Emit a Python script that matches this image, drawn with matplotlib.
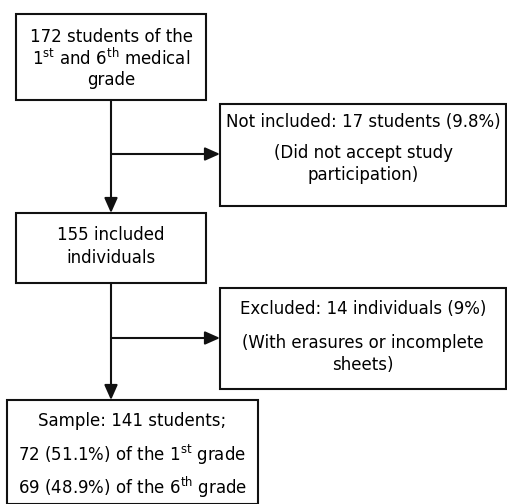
import matplotlib
matplotlib.use("Agg")
import matplotlib.pyplot as plt
from matplotlib.patches import Rectangle

plt.rcParams['mathtext.fontset'] = 'dejavusans'

# flowchart content
box_main = [
    ["172 students of the", r"1$^{\mathrm{st}}$ and 6$^{\mathrm{th}}$ medical", "grade"],
    ["155 included", "individuals"],
    ["Sample: 141 students;", r"72 (51.1%) of the 1$^{\mathrm{st}}$ grade",
     r"69 (48.9%) of the 6$^{\mathrm{th}}$ grade"],
]
box_side = [
    ["Not included: 17 students (9.8%)", "(Did not accept study", "participation)"],
    ["Excluded: 14 individuals (9%)", "(With erasures or incomplete", "sheets)"],
]

# layout in pixels (x0, y0, x1, y1) and text line centres
main_rects = [(16, 14, 206, 100), (16, 213, 206, 283), (7, 400, 258, 504)]
main_lines_y = [[37, 58, 80], [235, 258], [421, 455, 487]]
side_rects = [(220, 104, 506, 206), (220, 288, 506, 389)]
side_lines_y = [[122, 153, 175], [309, 343, 365]]
branch_y = [154, 338]
trunk_x = 111

fs = 12
fig = plt.figure(figsize=(5.07, 5.04), dpi=100)
ax = fig.add_axes([0, 0, 1, 1])
ax.set_xlim(0, 507)
ax.set_ylim(504, 0)
ax.axis("off")


def draw_box(rect, lines, ys):
    x0, y0, x1, y1 = rect
    ax.add_patch(Rectangle((x0, y0), x1 - x0, y1 - y0, fill=False,
                           edgecolor="#111111", linewidth=1.5))
    cx = (x0 + x1) / 2
    for t, y in zip(lines, ys):
        ax.text(cx, y, t, ha="center", va="center", fontsize=fs, color="black")


for r, l, y in zip(main_rects, box_main, main_lines_y):
    draw_box(r, l, y)
for r, l, y in zip(side_rects, box_side, side_lines_y):
    draw_box(r, l, y)

arrow = dict(arrowstyle="-|>,head_length=0.9,head_width=0.4", color="#111111",
             linewidth=1.5, shrinkA=0, shrinkB=0)
# vertical arrows
for i in range(2):
    ax.annotate("", xy=(trunk_x, main_rects[i + 1][1]), xytext=(trunk_x, main_rects[i][3]),
                arrowprops=arrow)
# branch arrows
for i in range(2):
    ax.annotate("", xy=(side_rects[i][0], branch_y[i]), xytext=(trunk_x, branch_y[i]),
                arrowprops=arrow)

fig.savefig("out.png", dpi=100)
